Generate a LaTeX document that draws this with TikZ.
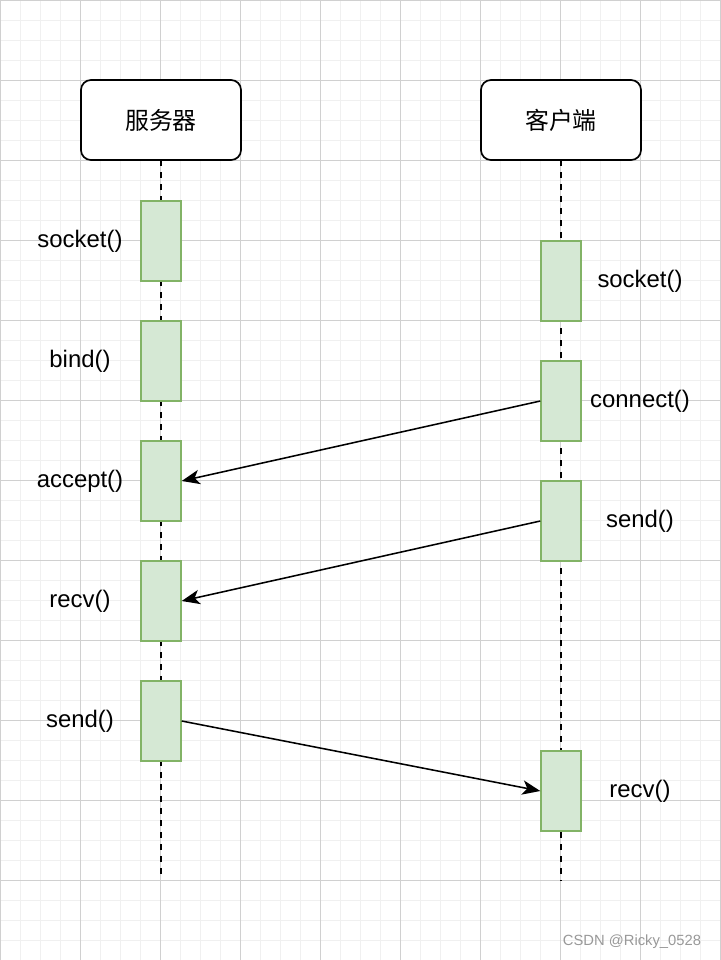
\documentclass[tikz,border=0pt]{standalone}
\usepackage{fontspec}
\setmainfont{Liberation Sans}
\newfontfamily\cjk{Noto Sans CJK SC}
\usepackage{tikz}
\usetikzlibrary{arrows.meta,calc}

\definecolor{gridmajor}{HTML}{D0D0D0}
\definecolor{gridminor}{HTML}{F0F0F0}
\definecolor{actfill}{HTML}{D5E8D4}
\definecolor{actdraw}{HTML}{82B366}

\begin{document}
\begin{tikzpicture}[x = 0.025cm, y = -0.025cm,
font = \fontsize{17}{20}\selectfont]

\tikzset{
	header/.style = {
		draw = black, line width = 1.2pt, rounded corners = 0.25cm, fill = white,
		minimum width = 4cm, minimum height = 2cm, inner sep = 0pt
	},
	activation/.style = {
		draw = actdraw, line width = 1pt, fill = actfill,
		minimum width = 1cm, minimum height = 2cm, inner sep = 0pt
	},
	lifeline/.style = {
		line width = 1.2pt, dash pattern = on 0.14cm off 0.16cm
	},
	message/.style = {
		line width = 1.1pt, -{Stealth[length = 0.45cm, width = 0.36cm, inset = 0.12cm]}
	},
	label/.style = {
		yshift = -1pt
	}
}

\useasboundingbox (0,0) rectangle (721,960);
\fill[white] (0,0) rectangle (721,960);

% Rejilla de fondo
\foreach \i in {0,20,...,720}
	\draw[gridminor, line width = 0.5pt] (\i,0) -- (\i,960);
\foreach \j in {0,20,...,960}
	\draw[gridminor, line width = 0.5pt] (0,\j) -- (721,\j);
\foreach \i in {0,80,...,720}
	\draw[gridmajor, line width = 0.5pt] (\i,0) -- (\i,960);
\foreach \j in {0,80,...,960}
	\draw[gridmajor, line width = 0.5pt] (0,\j) -- (721,\j);

% Lineas de vida
\coordinate (server_top) at (161,160);
\coordinate (client_top) at (561,160);
\coordinate (server_end) at (161,876);
\coordinate (client_end) at (561,881);
\draw[lifeline] (server_top) -- (server_end);
\draw[lifeline] (client_top) -- (client_end);

% Cabeceras
\node[header] (server) at (161,120) {\cjk 服务器};
\node[header] (client) at (561,120) {\cjk 客户端};

% Servidor
\node[activation] (s_socket) at (161,241) {};
\node[activation] (s_bind) at (161,361) {};
\node[activation] (s_accept) at (161,481) {};
\node[activation] (s_recv) at (161,601) {};
\node[activation] (s_send) at (161,721) {};

\node[label] (l_s_socket) at (80,240) {socket()};
\node[label] (l_s_bind) at (80,360) {bind()};
\node[label] (l_s_accept) at (80,480) {accept()};
\node[label] (l_s_recv) at (80,600) {recv()};
\node[label] (l_s_send) at (80,720) {send()};

% Cliente
\node[activation] (c_socket) at (561,281) {};
\node[activation] (c_connect) at (561,401) {};
\node[activation] (c_send) at (561,521) {};
\node[activation] (c_recv) at (561,791) {};

\node[label] (l_c_socket) at (640,280) {socket()};
\node[label] (l_c_connect) at (640,400) {connect()};
\node[label] (l_c_send) at (640,520) {send()};
\node[label] (l_c_recv) at (640,790) {recv()};

% Mensajes
\draw[message] (c_connect.west) -- (s_accept.east);
\draw[message] (c_send.west) -- (s_recv.east);
\draw[message] (s_send.east) -- (c_recv.west);

\node[text = black!40, font = \fontsize{10.5}{12}\selectfont, anchor = east] (mark) at (706,942) {CSDN @Ricky\_0528};
\end{tikzpicture}
\end{document}
